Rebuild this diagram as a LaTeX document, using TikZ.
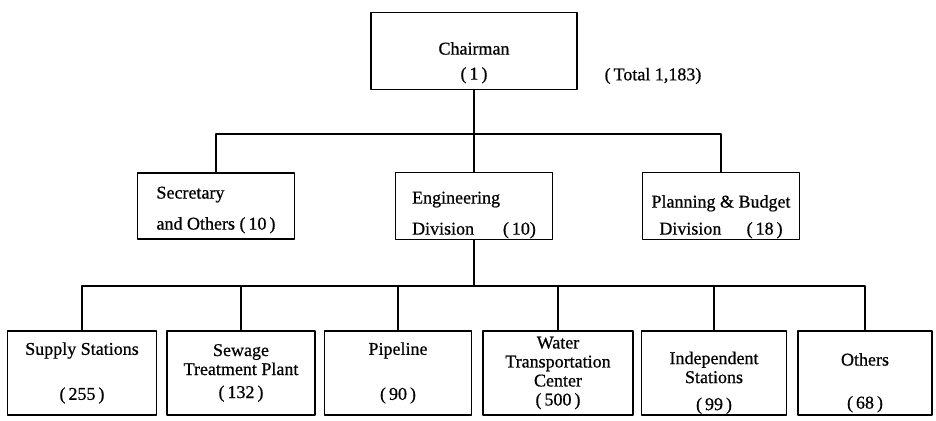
\documentclass[tikz,border=0pt]{standalone}
\usepackage{fontspec}
\setmainfont{Liberation Serif}[FakeBold=0.7]
\newcommand{\topgap}[1]{\rule{0pt}{#1}}

\begin{document}
\begin{tikzpicture}[x=1pt,y=-1pt,line cap=round,line join=round,
	box/.style={draw,line width=1.4pt,rectangle,inner sep=1pt,font=\fontsize{18}{19}\selectfont},
	midbox/.style={box,minimum width=157pt,minimum height=66pt},
	lowbox/.style={box,minimum height=84pt,align=center},
	link/.style={line width=1.4pt}]
			\useasboundingbox (0,0) rectangle (936,420);
			\node[box,minimum width=206pt,minimum height=77pt,align=center] (chair) at (474,51) {\topgap{36pt}Chairman\\[6pt](\,1\,)};
			\node[font=\fontsize{18}{19}\selectfont] (total) at (653,76) {(\,Total 1,183)};
			\node[midbox,align=left] (sec) at (216,206) {\topgap{20pt}Secretary\\[12pt]and Others (\,10\,)};
			\node[midbox,align=left] (eng) at (474,206) {\topgap{30pt}Engineering\\[12pt]Division\hspace{1.6em}(\,10)};
			\node[midbox,align=center] (plan) at (721,206) {\topgap{34pt}Planning \& Budget\\[8pt]Division\hspace{1.4em}(\,18\,)};
			\node[lowbox,minimum width=149pt] (sup) at (82,373) {Supply Stations\\[26pt](\,255\,)};
			\node[lowbox,minimum width=148pt] (sew) at (241,373) {Sewage\\Treatment Plant\\[4pt](\,132\,)};
			\node[lowbox,minimum width=147pt] (pipe) at (398,373) {Pipeline\\[26pt](\,90\,)};
			\node[lowbox,minimum width=150pt] (wat) at (558,373) {Water\\Transportation\\Center\\(\,500\,)};
			\node[lowbox,minimum width=145pt] (ind) at (714,373) {\topgap{32pt}Independent\\Stations\\[8pt](\,99\,)};
			\node[lowbox,minimum width=134pt] (oth) at (865,373) {\topgap{32pt}Others\\[24pt](\,68\,)};
			\coordinate (topbus) at (474,134);
			\coordinate (lowbus) at (474,286);
			\draw[link] (chair.south) -- (topbus);
			\draw[link] (sec.north) |- (topbus) -| (plan.north);
			\draw[link] (topbus) -- (eng.north);
			\draw[link] (eng.south) -- (lowbus);
			\draw[link] (sup.north) |- (lowbus) -| (oth.north);
			\foreach \n in {sew,pipe,wat,ind}
				\draw[link] (\n.north) -- (\n.north |- lowbus);
\end{tikzpicture}
\end{document}
